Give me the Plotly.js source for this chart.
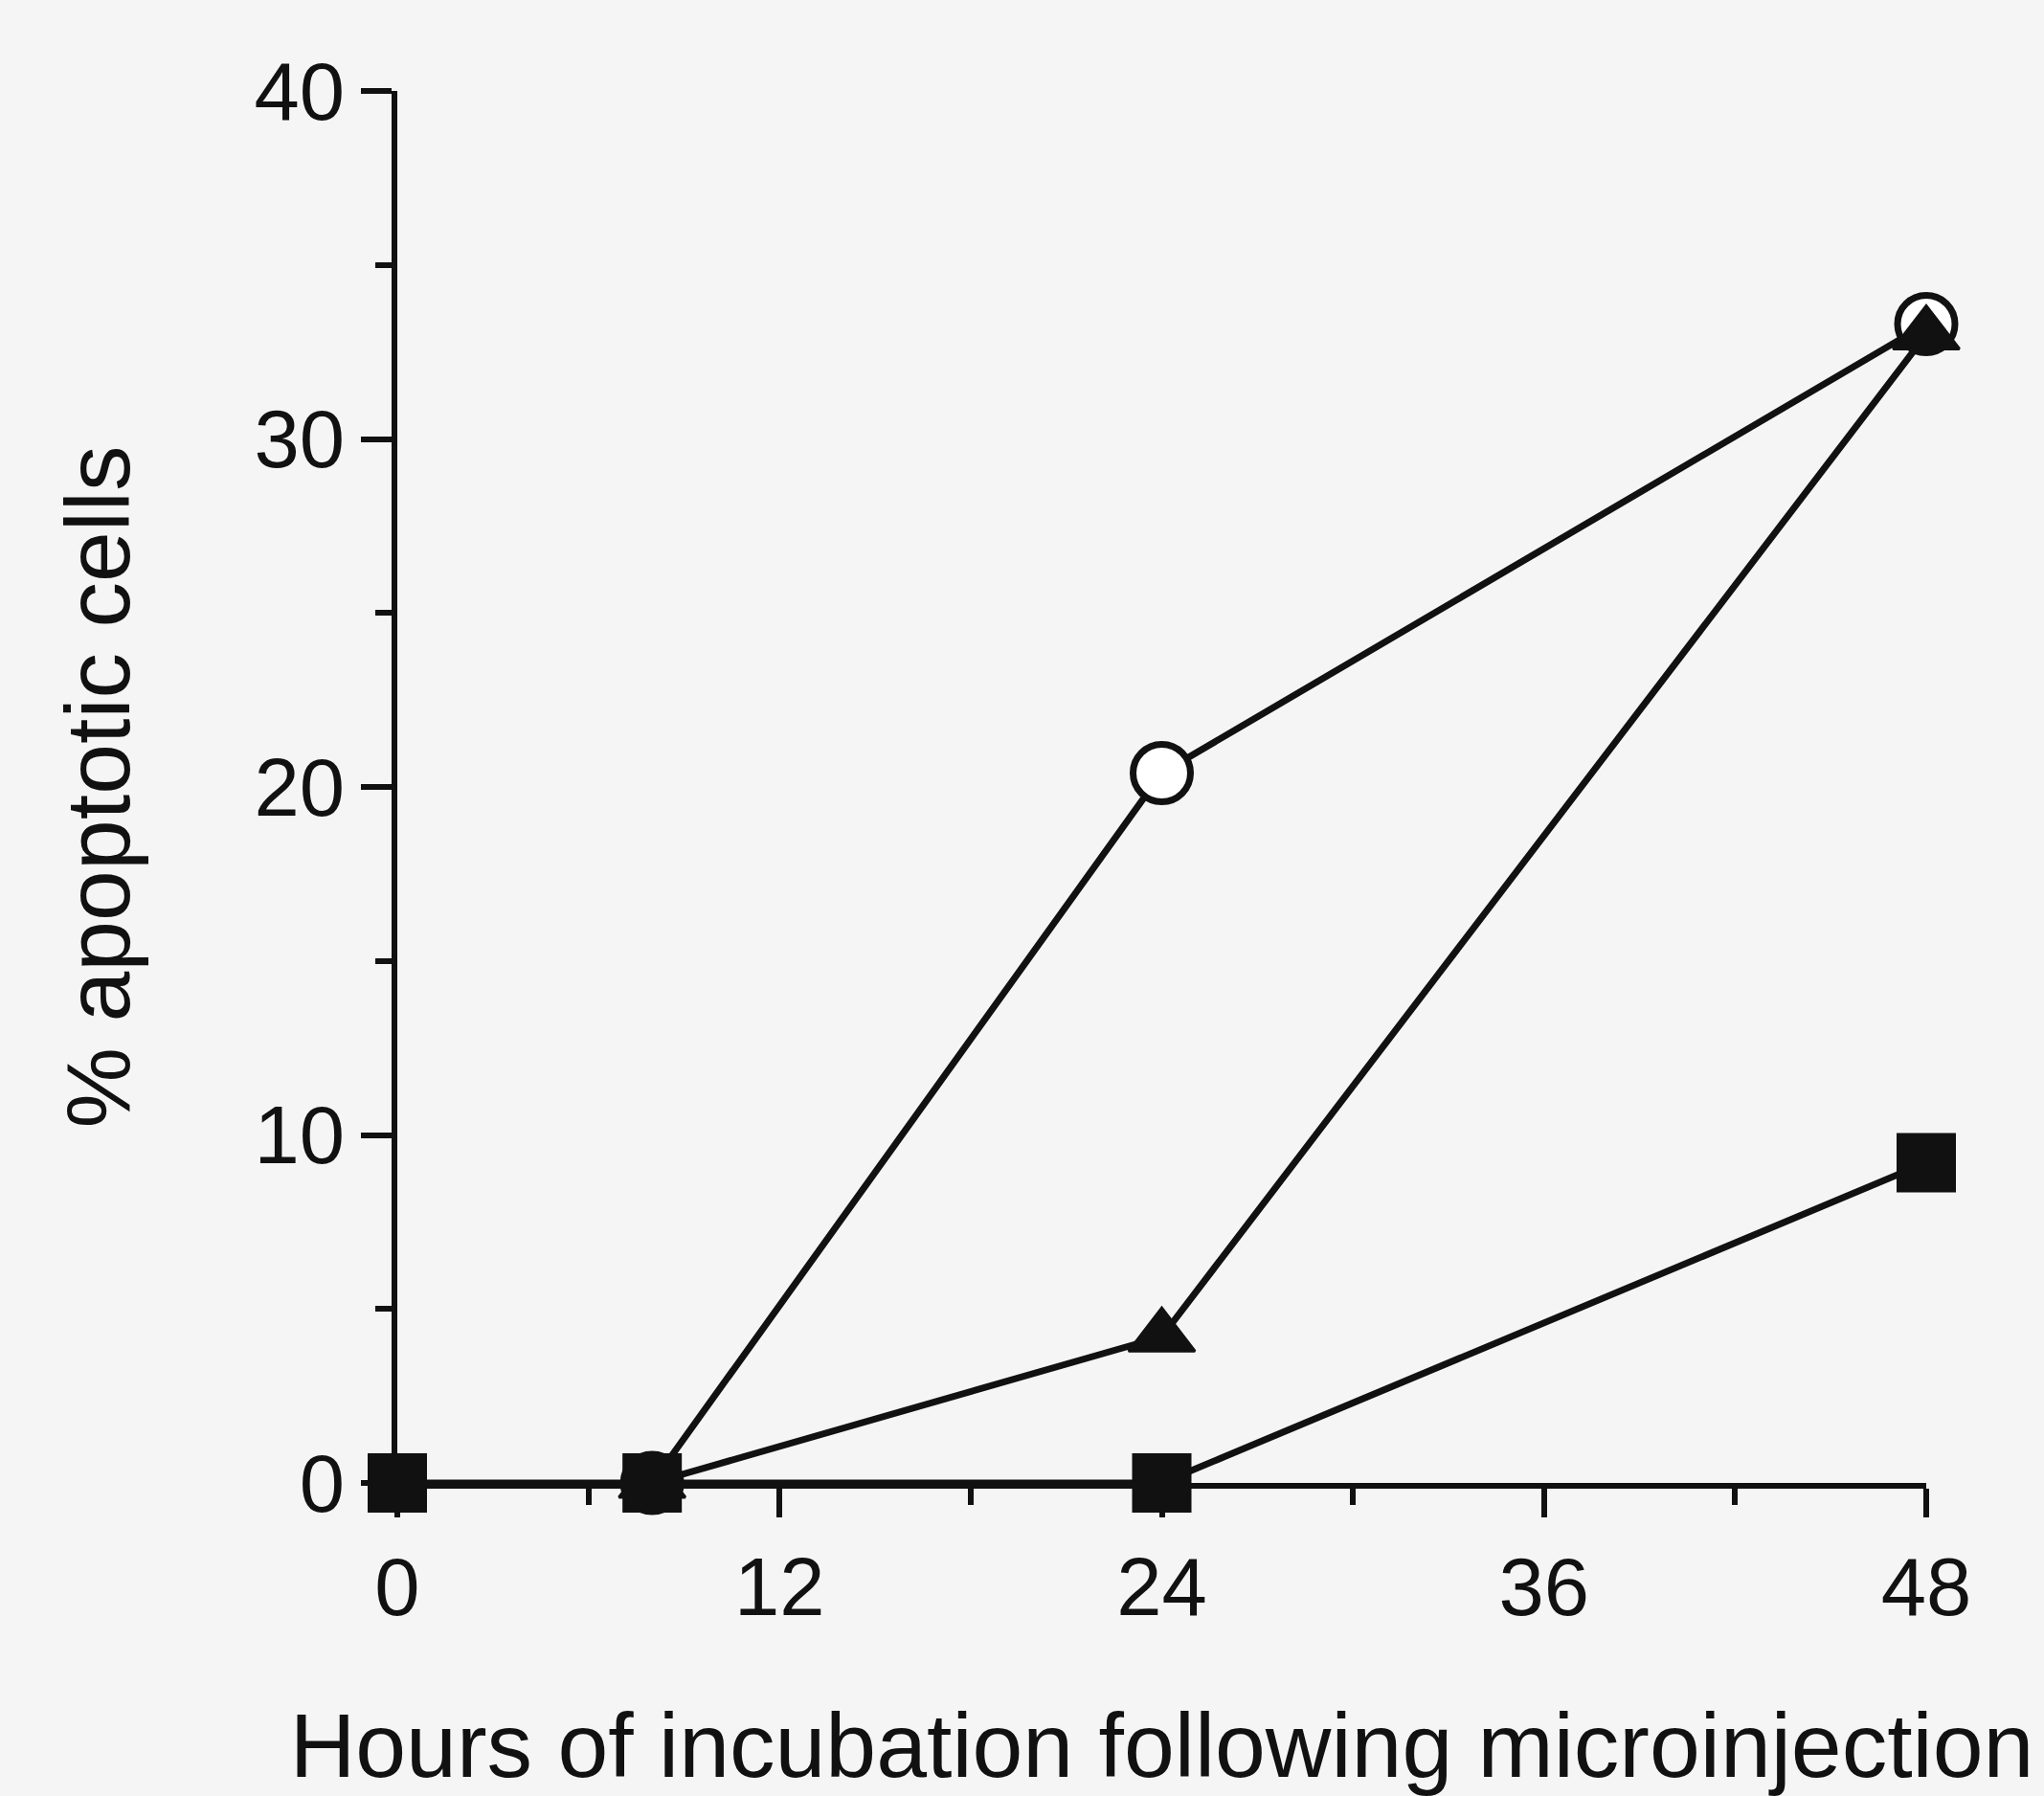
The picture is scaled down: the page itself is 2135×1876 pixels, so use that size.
<!DOCTYPE html>
<html>
<head>
<meta charset="utf-8">
<script src="https://cdn.plot.ly/plotly-3.0.1.min.js"></script>
<style>html,body{margin:0;padding:0;background:#f5f5f5;}</style>
</head>
<body>
<div id="chart" style="width:2135px;height:1876px;"></div>
<script>
// Hours of incubation following microinjection
const hoursCircle = [8, 24, 48];
const valuesCircle = [0, 20.4, 33.3];
const hoursTriangle = [8, 24, 48];
const valuesTriangle = [0, 4.2, 33.0];
const hoursSquare = [0, 8, 24, 48];
const valuesSquare = [0, 0, 0, 9.2];
const xTickVals = [0, 12, 24, 36, 48];
const xTickText = ['0', '12', '24', '36', '48'];
const yTickVals = [0, 10, 20, 30, 40];
const yTickText = ['0', '10', '20', '30', '40'];

const ink = '#111111';
const lineW = 7;

const traces = [
  {
    x: hoursCircle, y: valuesCircle, type: 'scatter', mode: 'lines+markers',
    line: {color: ink, width: lineW},
    marker: {symbol: 'circle', size: 60, color: '#ffffff', line: {color: ink, width: 7}},
    cliponaxis: false, showlegend: false
  },
  {
    x: hoursTriangle, y: valuesTriangle, type: 'scatter', mode: 'lines+markers',
    line: {color: ink, width: lineW},
    marker: {symbol: 'triangle-up', size: 60, color: ink, line: {color: ink, width: 3}},
    cliponaxis: false, showlegend: false
  },
  {
    x: hoursSquare, y: valuesSquare, type: 'scatter', mode: 'lines+markers',
    line: {color: ink, width: lineW},
    marker: {symbol: 'square', size: 60, color: ink, line: {color: ink, width: 2}},
    cliponaxis: false, showlegend: false
  }
];

const fontFam = '"Liberation Sans", Arial, Helvetica, sans-serif';

const layout = {
  width: 2135, height: 1876,
  margin: {l: 415, r: 123, t: 95, b: 327},
  paper_bgcolor: '#f5f5f5', plot_bgcolor: '#f5f5f5',
  font: {family: fontFam, color: ink},
  xaxis: {
    range: [0, 48], showgrid: false, zeroline: false,
    showline: true, linecolor: ink, linewidth: 6,
    tickmode: 'array', tickvals: xTickVals, ticktext: xTickText,
    ticks: 'outside', ticklen: 30, tickwidth: 6, tickcolor: ink,
    minor: {dtick: 6, tick0: 0, ticks: 'outside', ticklen: 17, tickwidth: 6, tickcolor: ink, showgrid: false},
    tickfont: {size: 85, family: fontFam, color: ink},
    ticklabelstandoff: 0,
    title: {text: 'Hours of incubation following microinjection', font: {size: 95, family: fontFam, color: ink}, standoff: 93}
  },
  yaxis: {
    range: [0, 40], showgrid: false, zeroline: false,
    showline: true, linecolor: ink, linewidth: 6,
    tickmode: 'array', tickvals: yTickVals, ticktext: yTickText,
    ticks: 'outside', ticklen: 32, tickwidth: 6, tickcolor: ink,
    minor: {dtick: 5, tick0: 0, ticks: 'outside', ticklen: 17, tickwidth: 6, tickcolor: ink, showgrid: false},
    tickfont: {size: 85, family: fontFam, color: ink},
    ticklabelstandoff: 0,
    title: {text: '% apoptotic cells', font: {size: 95, family: fontFam, color: ink}, standoff: 100}
  }
};

Plotly.newPlot('chart', traces, layout, {displayModeBar: false, staticPlot: true});
</script>
</body>
</html>
